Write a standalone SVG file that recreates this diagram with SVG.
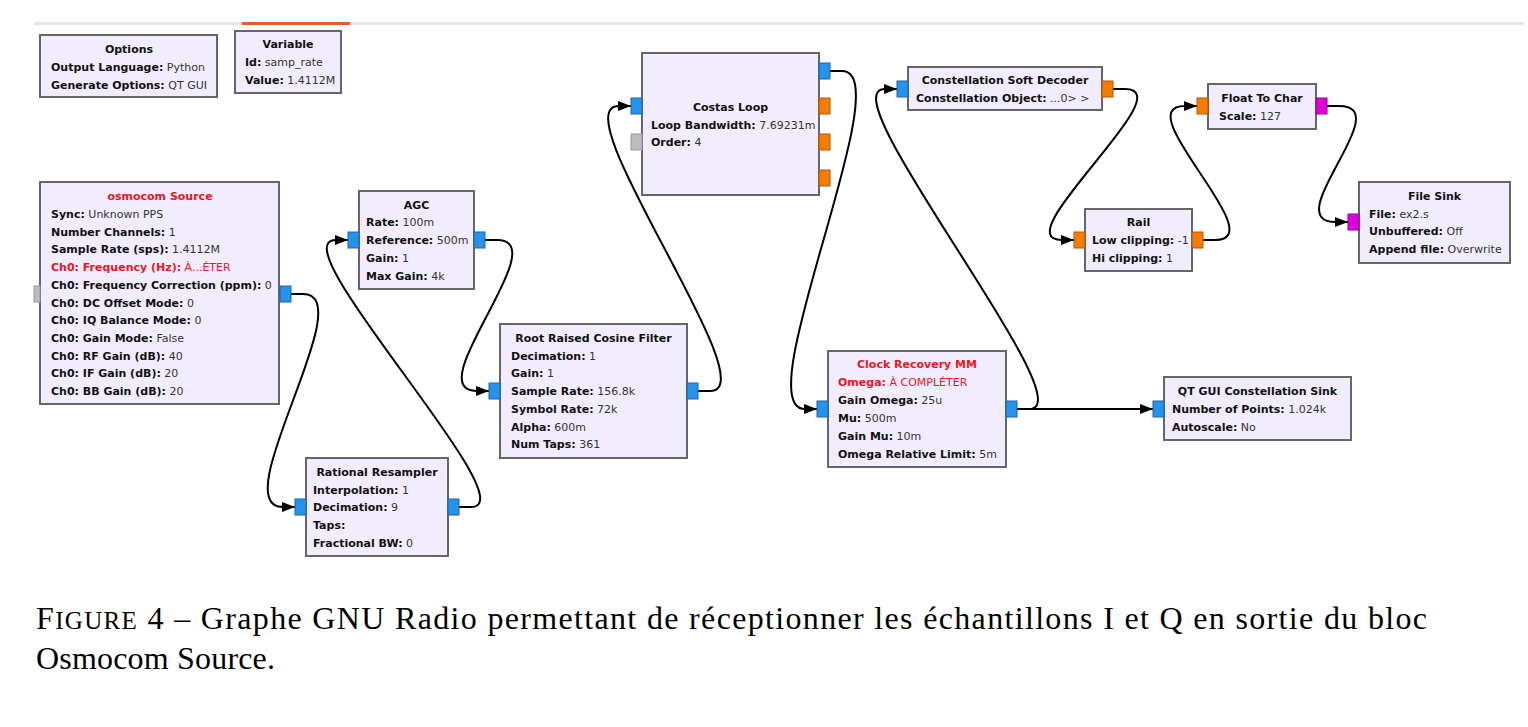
<svg xmlns="http://www.w3.org/2000/svg" width="1528" height="727" viewBox="0 0 1528 727">
<defs>
<style>
.blk{fill:#f1edfe;stroke:#666;stroke-width:2}
.t{font-family:"DejaVu Sans",sans-serif;font-size:11px;fill:#111}
.ti{font-weight:bold;text-anchor:middle}
.k{font-weight:bold}
.v{fill:#333}
.red{fill:#f0141e}
.pb{fill:#2592ec;stroke:#1b62b0;stroke-width:1}
.po{fill:#f57c00;stroke:#b55600;stroke-width:1}
.pm{fill:#dd00dd;stroke:#950095;stroke-width:1}
.pg{fill:#bdbdbd;stroke:#9a9a9a;stroke-width:1}
.c{fill:none;stroke:#000;stroke-width:2;marker-end:url(#arr)}
.cap{font-family:"Liberation Serif","DejaVu Serif",serif;font-size:32px;fill:#000}
</style>
<marker id="arr" markerUnits="userSpaceOnUse" markerWidth="14" markerHeight="10" refX="13" refY="5" orient="auto">
<path d="M0,0 L13,5 L0,10 z" fill="#000"/>
</marker>
</defs>
<rect x="0" y="0" width="1528" height="727" fill="#fff"/>
<rect x="34" y="22" width="1490" height="3" fill="#e6e6e6"/>
<rect x="242" y="22" width="108" height="3" fill="#ee5a24"/>

<g id="connectors">
<path class="c" d="M291,294 L303,294 C363,294 223,507 283,507 L295,507"/>
<path class="c" d="M459,507 L471,507 C531,507 276,240 336,240 L348,240"/>
<path class="c" d="M485,240 L497,240 C557,240 417,391 477,391 L489,391"/>
<path class="c" d="M698,391 L710,391 C770,391 559,106 619,106 L631,106"/>
<path class="c" d="M830,71 L842,71 C902,71 745,409 805,409 L817,409"/>
<path class="c" d="M1017,409 L1153,409"/>
<path class="c" d="M1017,409 L1029,409 C1089,409 825,89 885,89 L897,89"/>
<path class="c" d="M1113,89 L1125,89 C1185,89 1002,240 1062,240 L1074,240"/>
<path class="c" d="M1203,240 L1215,240 C1275,240 1125,106 1185,106 L1197,106"/>
<path class="c" d="M1327,106 L1339,106 C1399,106 1276,222 1336,222 L1348,222"/>
</g>

<g id="options">
<rect class="blk" x="40" y="35" width="177" height="62"/>
<text class="t ti" x="129" y="53">Options</text>
<text class="t" x="51" y="71"><tspan class="k">Output Language:</tspan><tspan class="v"> Python</tspan></text>
<text class="t" x="51" y="89"><tspan class="k">Generate Options:</tspan><tspan class="v"> QT GUI</tspan></text>
</g>

<g id="variable">
<rect class="blk" x="235" y="31" width="106" height="62"/>
<text class="t ti" x="288" y="48">Variable</text>
<text class="t" x="245" y="66"><tspan class="k">Id:</tspan><tspan class="v"> samp_rate</tspan></text>
<text class="t" x="245" y="84"><tspan class="k">Value:</tspan><tspan class="v"> 1.4112M</tspan></text>
</g>

<g id="osmocom_source">
<rect class="blk" x="40" y="182" width="239" height="222"/>
<rect class="pg" x="34" y="286" width="6" height="16"/>
<rect class="pb" x="280" y="286" width="11" height="16"/>
<text class="t ti red" x="160" y="200">osmocom Source</text>
<text class="t" x="51" y="218"><tspan class="k">Sync:</tspan><tspan class="v"> Unknown PPS</tspan></text>
<text class="t" x="51" y="235.7"><tspan class="k">Number Channels:</tspan><tspan class="v"> 1</tspan></text>
<text class="t" x="51" y="253.4"><tspan class="k">Sample Rate (sps):</tspan><tspan class="v"> 1.4112M</tspan></text>
<text class="t red" x="51" y="271.1"><tspan class="k">Ch0: Frequency (Hz):</tspan><tspan> À...ÉTER</tspan></text>
<text class="t" x="51" y="288.8"><tspan class="k">Ch0: Frequency Correction (ppm):</tspan><tspan class="v"> 0</tspan></text>
<text class="t" x="51" y="306.5"><tspan class="k">Ch0: DC Offset Mode:</tspan><tspan class="v"> 0</tspan></text>
<text class="t" x="51" y="324.2"><tspan class="k">Ch0: IQ Balance Mode:</tspan><tspan class="v"> 0</tspan></text>
<text class="t" x="51" y="341.9"><tspan class="k">Ch0: Gain Mode:</tspan><tspan class="v"> False</tspan></text>
<text class="t" x="51" y="359.6"><tspan class="k">Ch0: RF Gain (dB):</tspan><tspan class="v"> 40</tspan></text>
<text class="t" x="51" y="377.3"><tspan class="k">Ch0: IF Gain (dB):</tspan><tspan class="v"> 20</tspan></text>
<text class="t" x="51" y="395"><tspan class="k">Ch0: BB Gain (dB):</tspan><tspan class="v"> 20</tspan></text>
</g>

<g id="agc">
<rect class="blk" x="359" y="191" width="115" height="98"/>
<rect class="pb" x="348" y="232" width="11" height="16"/>
<rect class="pb" x="474" y="232" width="11" height="16"/>
<text class="t ti" x="416.5" y="209">AGC</text>
<text class="t" x="366" y="226"><tspan class="k">Rate:</tspan><tspan class="v"> 100m</tspan></text>
<text class="t" x="366" y="244"><tspan class="k">Reference:</tspan><tspan class="v"> 500m</tspan></text>
<text class="t" x="366" y="262"><tspan class="k">Gain:</tspan><tspan class="v"> 1</tspan></text>
<text class="t" x="366" y="280"><tspan class="k">Max Gain:</tspan><tspan class="v"> 4k</tspan></text>
</g>

<g id="rational_resampler">
<rect class="blk" x="306" y="458" width="142" height="98"/>
<rect class="pb" x="295" y="499" width="11" height="16"/>
<rect class="pb" x="448" y="499" width="11" height="16"/>
<text class="t ti" x="377" y="476">Rational Resampler</text>
<text class="t" x="313" y="494"><tspan class="k">Interpolation:</tspan><tspan class="v"> 1</tspan></text>
<text class="t" x="313" y="511"><tspan class="k">Decimation:</tspan><tspan class="v"> 9</tspan></text>
<text class="t" x="313" y="529"><tspan class="k">Taps:</tspan></text>
<text class="t" x="313" y="547"><tspan class="k">Fractional BW:</tspan><tspan class="v"> 0</tspan></text>
</g>

<g id="rrc_filter">
<rect class="blk" x="500" y="324" width="187" height="134"/>
<rect class="pb" x="489" y="383" width="11" height="16"/>
<rect class="pb" x="687" y="383" width="11" height="16"/>
<text class="t ti" x="593.5" y="342">Root Raised Cosine Filter</text>
<text class="t" x="511" y="360"><tspan class="k">Decimation:</tspan><tspan class="v"> 1</tspan></text>
<text class="t" x="511" y="377"><tspan class="k">Gain:</tspan><tspan class="v"> 1</tspan></text>
<text class="t" x="511" y="395"><tspan class="k">Sample Rate:</tspan><tspan class="v"> 156.8k</tspan></text>
<text class="t" x="511" y="413"><tspan class="k">Symbol Rate:</tspan><tspan class="v"> 72k</tspan></text>
<text class="t" x="511" y="431"><tspan class="k">Alpha:</tspan><tspan class="v"> 600m</tspan></text>
<text class="t" x="511" y="448"><tspan class="k">Num Taps:</tspan><tspan class="v"> 361</tspan></text>
</g>

<g id="costas_loop">
<rect class="blk" x="642" y="53" width="177" height="142"/>
<rect class="pb" x="631" y="98" width="11" height="16"/>
<rect class="pg" x="631" y="134" width="11" height="16"/>
<rect class="pb" x="819" y="63" width="11" height="16"/>
<rect class="po" x="819" y="98" width="11" height="16"/>
<rect class="po" x="819" y="134" width="11" height="16"/>
<rect class="po" x="819" y="170" width="11" height="16"/>
<text class="t ti" x="730.5" y="111">Costas Loop</text>
<text class="t" x="651" y="129"><tspan class="k">Loop Bandwidth:</tspan><tspan class="v"> 7.69231m</tspan></text>
<text class="t" x="651" y="146"><tspan class="k">Order:</tspan><tspan class="v"> 4</tspan></text>
</g>

<g id="clock_recovery_mm">
<rect class="blk" x="828" y="351" width="178" height="116"/>
<rect class="pb" x="817" y="401" width="11" height="16"/>
<rect class="pb" x="1006" y="401" width="11" height="16"/>
<text class="t ti red" x="917" y="368">Clock Recovery MM</text>
<text class="t red" x="838" y="386"><tspan class="k">Omega:</tspan><tspan> À COMPLÉTER</tspan></text>
<text class="t" x="838" y="404"><tspan class="k">Gain Omega:</tspan><tspan class="v"> 25u</tspan></text>
<text class="t" x="838" y="422"><tspan class="k">Mu:</tspan><tspan class="v"> 500m</tspan></text>
<text class="t" x="838" y="440"><tspan class="k">Gain Mu:</tspan><tspan class="v"> 10m</tspan></text>
<text class="t" x="838" y="458"><tspan class="k">Omega Relative Limit:</tspan><tspan class="v"> 5m</tspan></text>
</g>

<g id="constellation_soft_decoder">
<rect class="blk" x="908" y="67" width="194" height="43"/>
<rect class="pb" x="897" y="81" width="11" height="16"/>
<rect class="po" x="1102" y="81" width="11" height="16"/>
<text class="t ti" x="1005" y="84">Constellation Soft Decoder</text>
<text class="t" x="916" y="102"><tspan class="k">Constellation Object:</tspan><tspan class="v"> ...0&gt; &gt;</tspan></text>
</g>

<g id="rail">
<rect class="blk" x="1085" y="209" width="107" height="62"/>
<rect class="po" x="1074" y="232" width="11" height="16"/>
<rect class="po" x="1192" y="232" width="11" height="16"/>
<text class="t ti" x="1138.5" y="226">Rail</text>
<text class="t" x="1092" y="244"><tspan class="k">Low clipping:</tspan><tspan class="v"> -1</tspan></text>
<text class="t" x="1092" y="262"><tspan class="k">Hi clipping:</tspan><tspan class="v"> 1</tspan></text>
</g>

<g id="float_to_char">
<rect class="blk" x="1208" y="84" width="108" height="45"/>
<rect class="po" x="1197" y="98" width="11" height="16"/>
<rect class="pm" x="1316" y="98" width="11" height="16"/>
<text class="t ti" x="1262" y="102">Float To Char</text>
<text class="t" x="1219" y="120"><tspan class="k">Scale:</tspan><tspan class="v"> 127</tspan></text>
</g>

<g id="file_sink">
<rect class="blk" x="1359" y="182" width="151" height="81"/>
<rect class="pm" x="1348" y="214" width="11" height="16"/>
<text class="t ti" x="1434.5" y="200">File Sink</text>
<text class="t" x="1369" y="218"><tspan class="k">File:</tspan><tspan class="v"> ex2.s</tspan></text>
<text class="t" x="1369" y="235"><tspan class="k">Unbuffered:</tspan><tspan class="v"> Off</tspan></text>
<text class="t" x="1369" y="253"><tspan class="k">Append file:</tspan><tspan class="v"> Overwrite</tspan></text>
</g>

<g id="qt_gui_constellation_sink">
<rect class="blk" x="1164" y="377" width="187" height="63"/>
<rect class="pb" x="1153" y="401" width="11" height="16"/>
<text class="t ti" x="1257.5" y="395">QT GUI Constellation Sink</text>
<text class="t" x="1172" y="413"><tspan class="k">Number of Points:</tspan><tspan class="v"> 1.024k</tspan></text>
<text class="t" x="1172" y="431"><tspan class="k">Autoscale:</tspan><tspan class="v"> No</tspan></text>
</g>

<g id="caption">
<text class="cap" x="36" y="629" textLength="1391" lengthAdjust="spacing">F<tspan font-size="25">IGURE</tspan> 4 – Graphe GNU Radio permettant de réceptionner les échantillons I et Q en sortie du bloc</text>
<text class="cap" x="36" y="669" textLength="239" lengthAdjust="spacing">Osmocom Source.</text>
</g>
</svg>
